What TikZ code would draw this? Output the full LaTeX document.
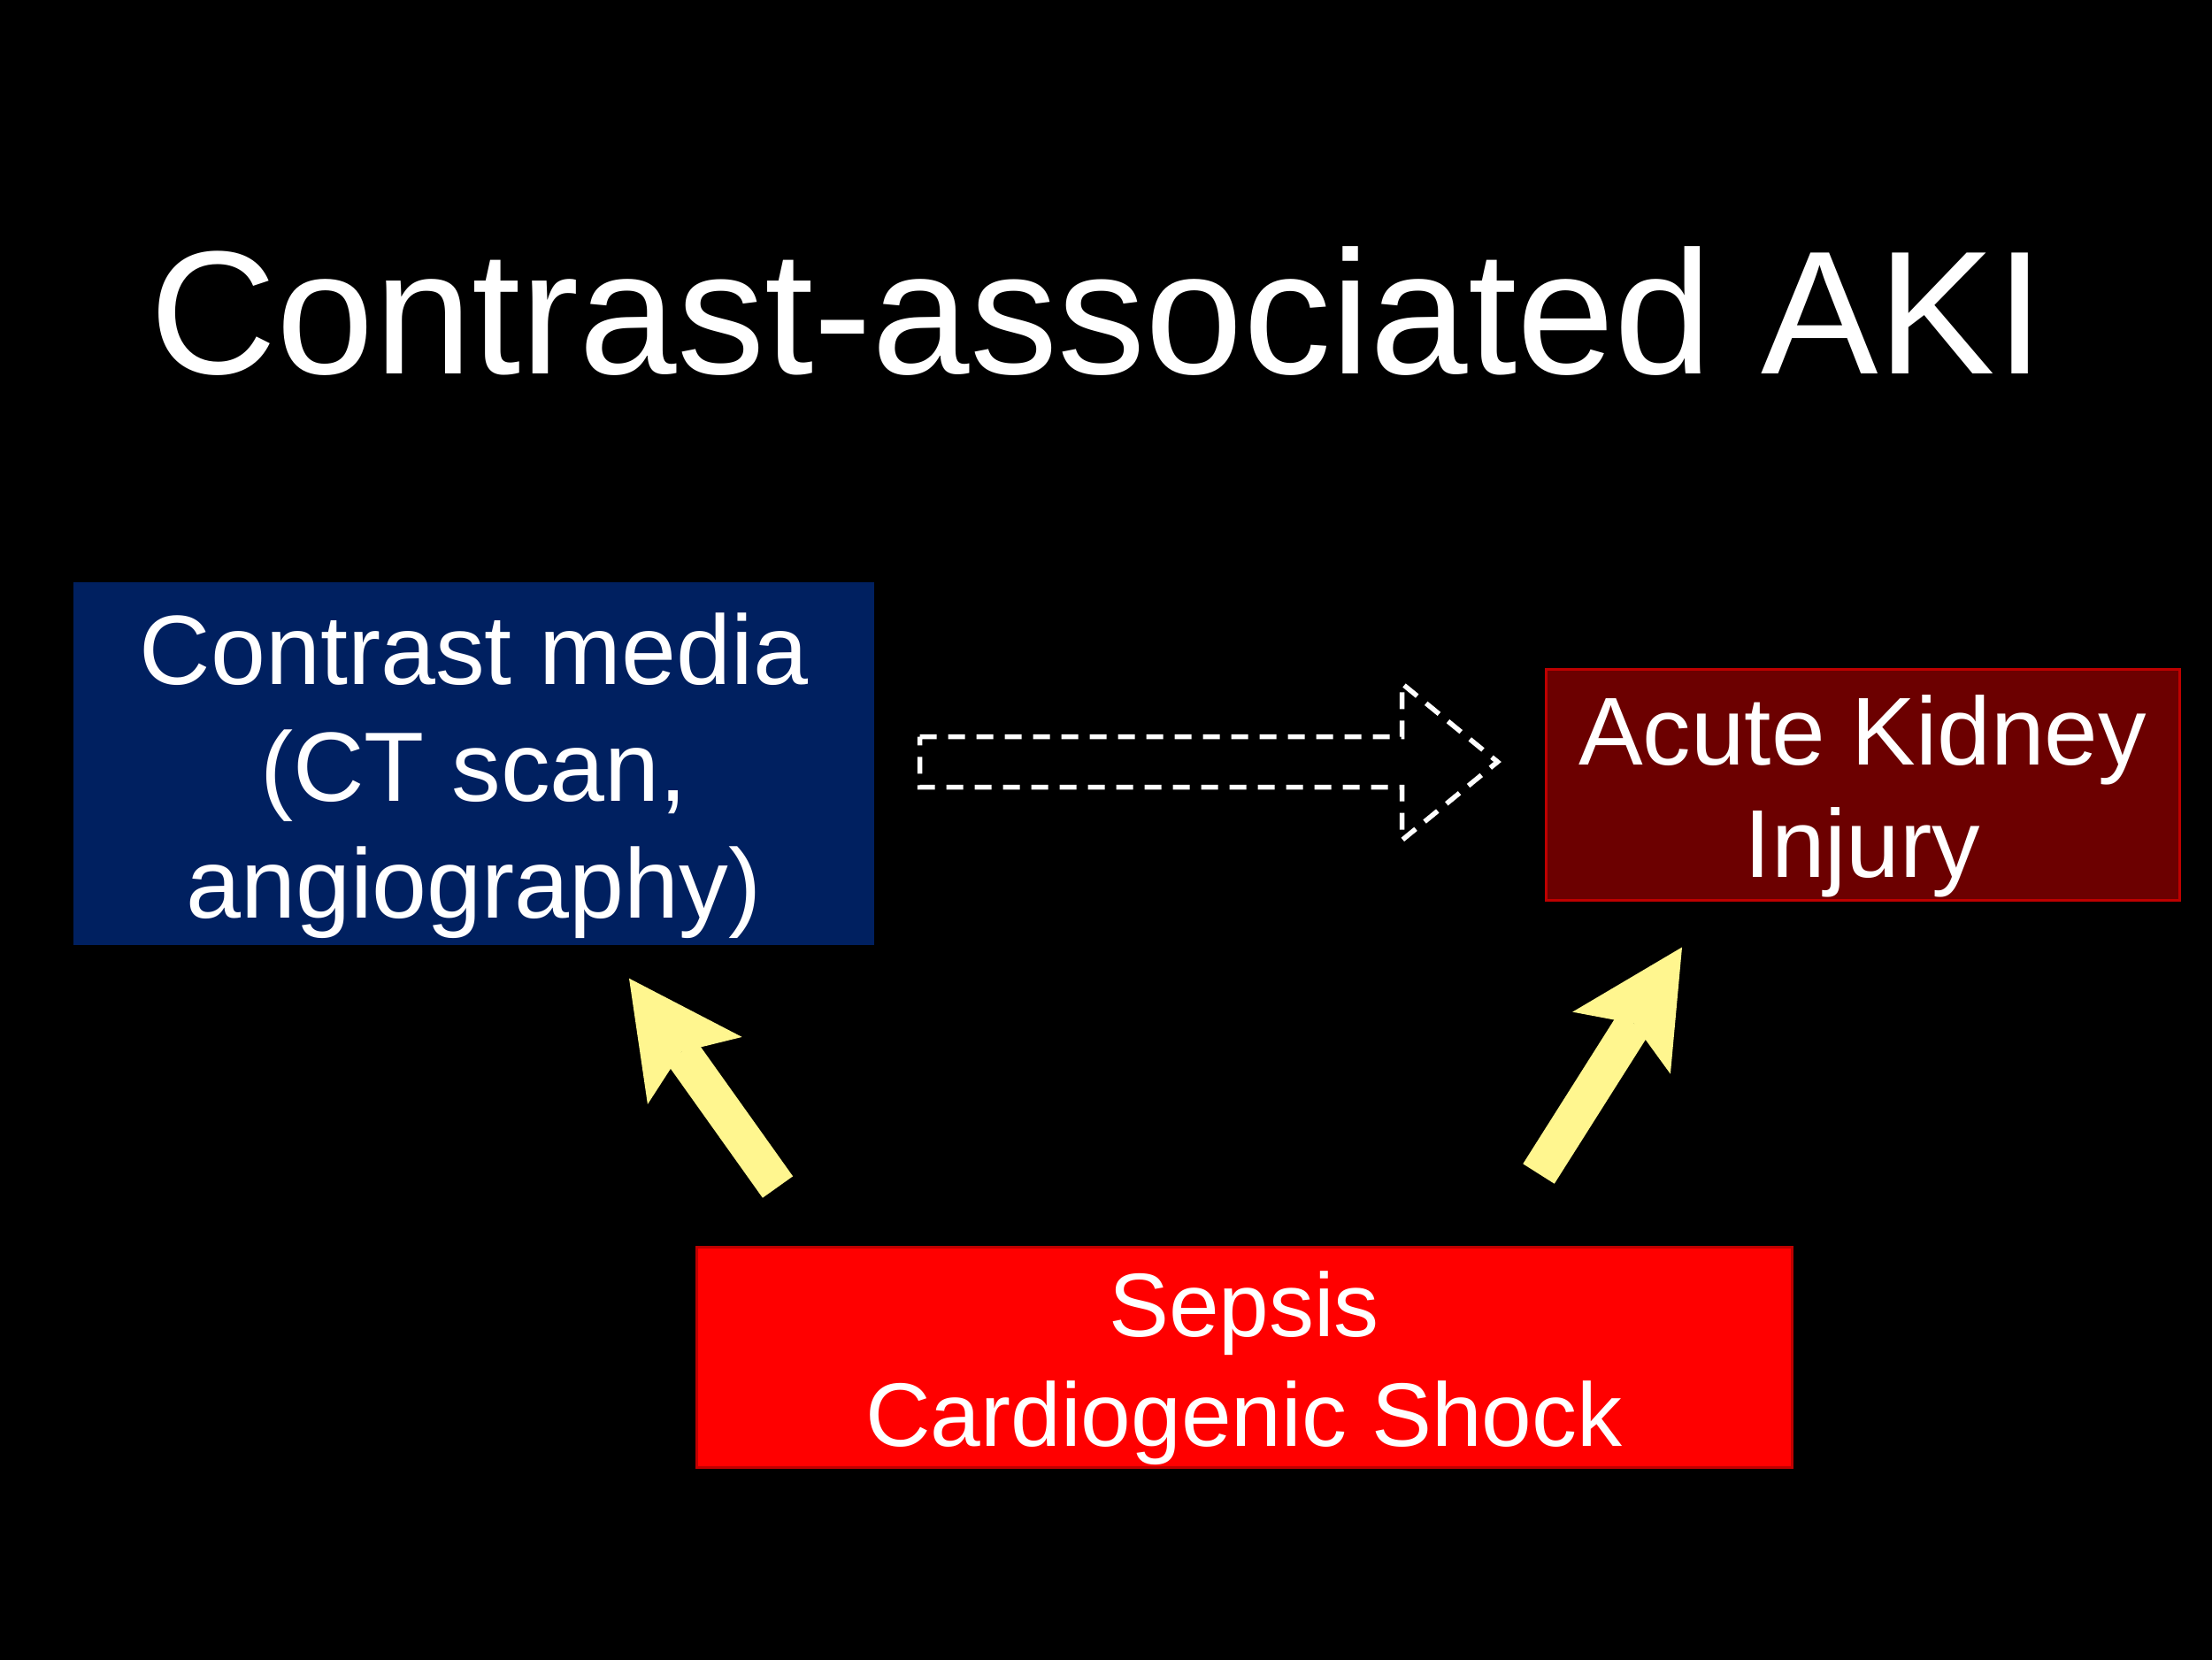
\documentclass[tikz,border=0pt]{standalone}
\usepackage{fontspec}
\setmainfont{Liberation Sans}
\usetikzlibrary{arrows.meta}
\definecolor{boxblue}{RGB}{0,32,96}
\definecolor{boxmaroon}{RGB}{108,0,0}
\definecolor{boxred}{RGB}{255,0,0}
\definecolor{borderred}{RGB}{190,0,0}
\definecolor{arrowyellow}{RGB}{255,246,143}
\newcommand{\toppad}{\rule{0pt}{0.97em}}

\begin{document}
\begin{tikzpicture}[
  box/.style = {text = white, align = center, inner sep = 0},
  dasharrow/.style = {draw = white, line width = 0.055cm, dash pattern = on 0.19cm off 0.13cm},
  yellowarrow/.style = {draw = arrowyellow, line width = 0.42cm,
    -{Stealth[length = 1.28cm, width = 1.31cm, inset = 0.26cm, line width = 0pt, fill = arrowyellow]}}
]
\useasboundingbox (0, 0) rectangle (25, 18.75);
\fill[black] (-0.1, -0.1) rectangle (25.1, 18.85);
\node[text = white, font = \fontsize{56.5}{60}\selectfont, anchor = base] (title) at (12.4, 14.52) {Contrast-associated AKI};
% boxes
\node[box, fill = boxblue, minimum width = 9.05cm, minimum height = 4.1cm,
  font = \fontsize{31.7}{37.6}\selectfont] (media) at (5.355, 10.12) {\toppad Contrast media\\(CT scan,\\angiography)};
\node[box, fill = boxmaroon, draw = borderred, line width = 0.03cm, minimum width = 7.16cm, minimum height = 2.61cm,
  font = \fontsize{31}{35.9}\selectfont] (aki) at (21.05, 9.885) {\toppad Acute Kidney\\Injury};
\node[box, fill = boxred, draw = borderred, line width = 0.03cm, minimum width = 12.38cm, minimum height = 2.49cm,
  font = \fontsize{29}{35.2}\selectfont] (shock) at (14.06, 3.415) {\toppad Sepsis\\Cardiogenic Shock};
% dashed block arrow
\coordinate (dstart) at ([xshift = 5.1mm, yshift = 0.2mm]media.east);
\path (dstart -| aki.west) ++(-0.53, 0) coordinate (dtip);
\draw[dasharrow] ([yshift = 2.85mm]dstart) -- ([shift = {(-1.08, 0.285)}]dtip) -- ([shift = {(-1.08, 0.885)}]dtip)
  -- (dtip) -- ([shift = {(-1.08, -0.885)}]dtip) -- ([shift = {(-1.08, -0.285)}]dtip) -- ([yshift = -2.85mm]dstart) -- cycle;
% yellow arrows
\coordinate (ltail) at ([shift = {(-5.27, 0.66)}]shock.north);
\coordinate (ltip) at ([shift = {(1.755, -0.37)}]media.south);
\coordinate (rtail) at ([shift = {(3.33, 0.81)}]shock.north);
\coordinate (rtip) at ([shift = {(-2.04, -0.52)}]aki.south);
\draw[yellowarrow] (ltail) -- (ltip);
\draw[yellowarrow] (rtail) -- (rtip);
\end{tikzpicture}
\end{document}
